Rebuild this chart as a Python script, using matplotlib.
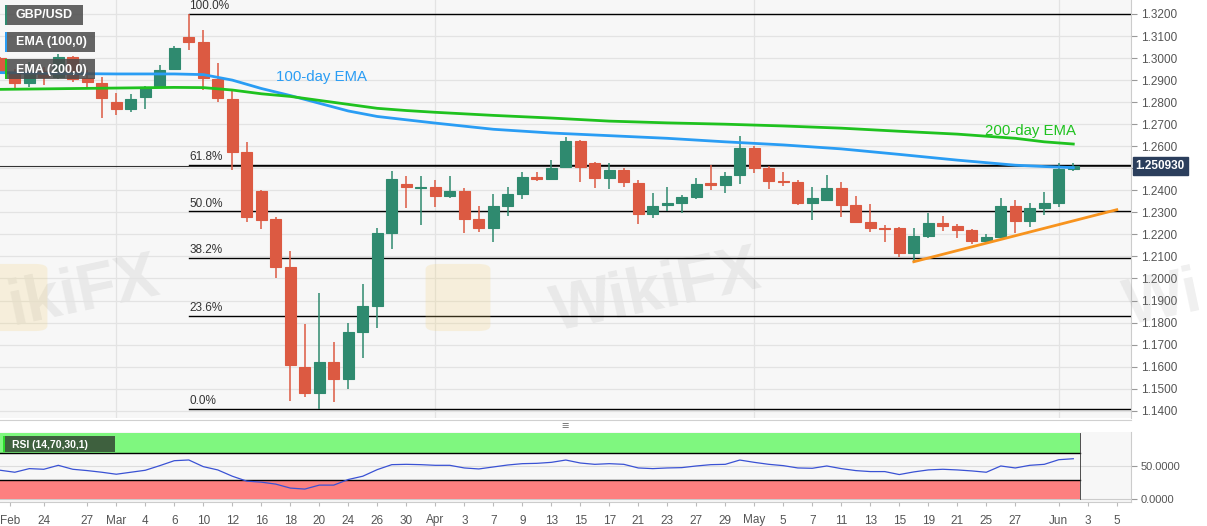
import matplotlib
matplotlib.use('Agg')
import matplotlib.pyplot as plt
import matplotlib.transforms as mtransforms
from matplotlib.patches import Rectangle, FancyBboxPatch
from matplotlib.lines import Line2D
import numpy as np

plt.rcParams['font.family'] = ['Liberation Sans', 'DejaVu Sans']

# daily GBP/USD candles, Feb 19 - Jun 2 (trading days only)
dates = ['Feb 19', 'Feb 20', 'Feb 21', 'Feb 24', 'Feb 25', 'Feb 26', 'Feb 27', 'Feb 28',
         'Mar 2', 'Mar 3', 'Mar 4', 'Mar 5', 'Mar 6', 'Mar 9', 'Mar 10', 'Mar 11', 'Mar 12',
         'Mar 13', 'Mar 16', 'Mar 17', 'Mar 18', 'Mar 19', 'Mar 20', 'Mar 23', 'Mar 24',
         'Mar 25', 'Mar 26', 'Mar 27', 'Mar 30', 'Mar 31',
         'Apr 1', 'Apr 2', 'Apr 3', 'Apr 6', 'Apr 7', 'Apr 8', 'Apr 9', 'Apr 10', 'Apr 13',
         'Apr 14', 'Apr 15', 'Apr 16', 'Apr 17', 'Apr 20', 'Apr 21', 'Apr 22', 'Apr 23',
         'Apr 24', 'Apr 27', 'Apr 28', 'Apr 29', 'Apr 30',
         'May 1', 'May 4', 'May 5', 'May 6', 'May 7', 'May 8', 'May 11', 'May 12', 'May 13',
         'May 14', 'May 15', 'May 18', 'May 19', 'May 20', 'May 21', 'May 22', 'May 25',
         'May 26', 'May 27', 'May 28', 'May 29', 'Jun 1', 'Jun 2']
opens = [1.2999, 1.2931, 1.2886, 1.2940, 1.2916, 1.3004, 1.2908, 1.2885,
         1.2802, 1.2768, 1.2822, 1.2873, 1.2950, 1.3094, 1.3072, 1.2904, 1.2814,
         1.2573, 1.2398, 1.2270, 1.2054, 1.1600, 1.1482, 1.1620, 1.1543,
         1.1756, 1.1877, 1.2205, 1.2429, 1.2410,
         1.2413, 1.2376, 1.2397, 1.2269, 1.2230, 1.2330, 1.2383, 1.2459, 1.2451,
         1.2505, 1.2624, 1.2523, 1.2457, 1.2492, 1.2434, 1.2292, 1.2333,
         1.2344, 1.2371, 1.2432, 1.2424, 1.2470,
         1.2591, 1.2500, 1.2442, 1.2436, 1.2344, 1.2357, 1.2409, 1.2333, 1.2258,
         1.2228, 1.2228, 1.2117, 1.2193, 1.2250, 1.2238, 1.2220, 1.2171,
         1.2189, 1.2329, 1.2261, 1.2318, 1.2341, 1.2495]
highs = [1.3005, 1.2951, 1.2980, 1.2960, 1.3017, 1.3009, 1.2946, 1.2915,
         1.2843, 1.2839, 1.2873, 1.2969, 1.3054, 1.3200, 1.3126, 1.2976, 1.2855,
         1.2621, 1.2400, 1.2280, 1.2126, 1.1792, 1.1933, 1.1710, 1.1797,
         1.1975, 1.2228, 1.2489, 1.2466, 1.2466,
         1.2447, 1.2466, 1.2409, 1.2329, 1.2382, 1.2416, 1.2482, 1.2483, 1.2538,
         1.2643, 1.2628, 1.2530, 1.2523, 1.2500, 1.2447, 1.2389, 1.2414,
         1.2379, 1.2455, 1.2515, 1.2485, 1.2646,
         1.2601, 1.2510, 1.2485, 1.2447, 1.2416, 1.2470, 1.2436, 1.2374, 1.2337,
         1.2243, 1.2235, 1.2228, 1.2296, 1.2285, 1.2247, 1.2224, 1.2200,
         1.2364, 1.2356, 1.2341, 1.2394, 1.2523, 1.2523]
lows = [1.2930, 1.2855, 1.2870, 1.2880, 1.2905, 1.2893, 1.2862, 1.2727,
        1.2742, 1.2756, 1.2771, 1.2867, 1.2947, 1.3037, 1.2857, 1.2802, 1.2492,
        1.2258, 1.2224, 1.2001, 1.1446, 1.1464, 1.1409, 1.1441, 1.1497,
        1.1638, 1.1774, 1.2132, 1.2318, 1.2243,
        1.2326, 1.2367, 1.2205, 1.2210, 1.2164, 1.2285, 1.2361, 1.2444, 1.2445,
        1.2500, 1.2436, 1.2409, 1.2405, 1.2414, 1.2246, 1.2273, 1.2307,
        1.2296, 1.2359, 1.2401, 1.2387, 1.2427,
        1.2477, 1.2405, 1.2421, 1.2333, 1.2265, 1.2357, 1.2280, 1.2255, 1.2210,
        1.2167, 1.2099, 1.2076, 1.2182, 1.2215, 1.2182, 1.2156, 1.2167,
        1.2189, 1.2205, 1.2232, 1.2288, 1.2323, 1.2488]
closes = [1.2938, 1.2886, 1.2938, 1.2915, 1.3004, 1.2905, 1.2890, 1.2818,
          1.2768, 1.2814, 1.2867, 1.2946, 1.3047, 1.3074, 1.2908, 1.2818, 1.2573,
          1.2278, 1.2265, 1.2054, 1.1607, 1.1482, 1.1620, 1.1543, 1.1756,
          1.1877, 1.2205, 1.2451, 1.2416, 1.2413,
          1.2376, 1.2397, 1.2270, 1.2230, 1.2330, 1.2383, 1.2459, 1.2451, 1.2500,
          1.2624, 1.2505, 1.2457, 1.2492, 1.2436, 1.2292, 1.2330, 1.2344,
          1.2370, 1.2427, 1.2424, 1.2465, 1.2591,
          1.2503, 1.2442, 1.2436, 1.2344, 1.2365, 1.2409, 1.2333, 1.2258, 1.2230,
          1.2225, 1.2117, 1.2193, 1.2250, 1.2238, 1.2220, 1.2171, 1.2189,
          1.2329, 1.2261, 1.2318, 1.2341, 1.2495, 1.250930]

# RSI(14) per candle
rsi = [44, 41, 46.5, 45.5, 51.5, 45.5, 43.5, 41,
       38, 41, 44, 51, 58.5, 59.6, 49.5, 44.5, 35, 27.5, 26, 23, 17, 15.5, 21.5, 21.5,
       30, 35, 45, 52.5, 53, 52.5,
       51.5, 51.5, 47.5, 46, 49, 52, 54, 54.5, 56, 59.5, 55, 53, 54, 53, 47.5, 46.5,
       47.5, 48, 50.5, 52.5, 53, 59.5,
       56, 53, 51, 47.5, 47, 50.5, 46.5, 43.5, 42, 42, 37.5, 41.5, 44.5, 45.5, 44.5,
       43, 41, 50.5, 47.5, 51.5, 53, 60, 61.5]

# EMA lines at selected candles
ema_idx = [0, 4, 8, 12, 14, 16, 18, 20, 22, 24, 26, 28, 30, 34, 38, 42, 46, 50,
           54, 58, 62, 66, 70, 72, 74]
ema100 = [1.2934, 1.2930, 1.2928, 1.2928, 1.2925, 1.2900, 1.2862, 1.2830, 1.2795,
          1.2760, 1.2735, 1.2720, 1.2705, 1.2677, 1.2660, 1.2648, 1.2636, 1.2620,
          1.2606, 1.2588, 1.2563, 1.2537, 1.2514, 1.2508, 1.2503]
ema200 = [1.2858, 1.2861, 1.2864, 1.2867, 1.2866, 1.2855, 1.2838, 1.2826, 1.2808,
          1.2790, 1.2772, 1.2762, 1.2754, 1.2740, 1.2728, 1.2714, 1.2706, 1.2700,
          1.2692, 1.2682, 1.2668, 1.2655, 1.2636, 1.2620, 1.2610]

# fibonacci swing (Mar 9 high -> Mar 20 low)
swing_high = 1.3200
swing_low = 1.1409
swing_start = 13
fib_ratios = [1.0, 0.618, 0.5, 0.382, 0.236, 0.0]
fib_labels = ['100.0%', '61.8%', '50.0%', '38.2%', '23.6%', '0.0%']

# support line from the May 18 low
trend_x = [63, 77]
trend_y = [1.2076, 1.2312]

tick_pos = [0.65, 3, 6, 8, 10, 12, 14, 16, 18, 20, 22, 24, 26, 28, 30, 32, 34, 36, 38,
            40, 42, 44, 46, 48, 50, 52, 54, 56, 58, 60, 62, 64, 66, 68, 70, 73, 75, 77]
tick_labels = ['Feb', '24', '27', 'Mar', '4', '6', '10', '12', '16', '18', '20', '24',
               '26', '30', 'Apr', '3', '7', '9', '13', '15', '17', '21', '23', '27', '29',
               'May', '5', '7', '11', '13', '15', '19', '21', '25', '27', 'Jun', '3', '5']

W, H = 1207, 526
GREEN_C = '#2f8a6f'
RED_C = '#dc5a42'
BLUE_E = '#2a9df4'
GREEN_E = '#1fc21f'
TXT = '#555555'


def fpx(x, y):
    return x / W, 1 - y / H


fig = plt.figure(figsize=(W / 100, H / 100), dpi=100)
fig.patch.set_facecolor('white')

ax = fig.add_axes([0, 1 - 418 / H, 1131 / W, 418 / H])
ax.set_facecolor('#f7f7f7')
xlo, xhi = -0.02, 77.98
ax.set_xlim(xlo, xhi)
ax.set_ylim(1.1367, 1.32635)

o = np.array(opens)
h = np.array(highs)
l = np.array(lows)
c = np.array(closes)
x = np.arange(len(o))
cols = np.where(c >= o, GREEN_C, RED_C)

ax.vlines(x, l, h, colors=cols, lw=1.1, zorder=3)
ax.bar(x, np.abs(c - o), bottom=np.minimum(o, c), width=0.74, color=cols,
       edgecolor=cols, lw=0.8, zorder=4)

ax.plot(ema_idx, ema100, color=BLUE_E, lw=2, zorder=5)
ax.plot(ema_idx, ema200, color=GREEN_E, lw=2, zorder=5)
ax.text(19, 1.2915, '100-day EMA', color=BLUE_E, fontsize=10.8, va='center', zorder=6)
ax.text(67.9, 1.2667, '200-day EMA', color=GREEN_E, fontsize=10.8, va='center', zorder=6)

# fib retracement
for r, lab in zip(fib_ratios, fib_labels):
    lvl = swing_low + r * (swing_high - swing_low)
    ax.plot([swing_start, xhi], [lvl, lvl], color='black', lw=1, zorder=2)
    ax.text(swing_start + 0.05, lvl + 0.0007, lab, color='#333333', fontsize=8.5,
            va='bottom', ha='left', zorder=6)

# last price line and label
ax.axhline(c[-1], color='#333333', lw=0.8, zorder=2)
trans = mtransforms.blended_transform_factory(ax.transAxes, ax.transData)
ax.text(1.004, c[-1], '%.6f' % c[-1], transform=trans, color='white', fontsize=8.5,
        fontweight='bold', va='center', ha='left', clip_on=False,
        bbox=dict(boxstyle='square,pad=0.25', fc='#2b3e5c', ec='#2b3e5c'))

ax.plot(trend_x, trend_y, color='#f7931e', lw=2, zorder=5)

# grid
ax.set_yticks(np.arange(1.14, 1.3201, 0.01))
ax.grid(axis='y', color='#e3e3e3', lw=0.9, zorder=0)
for m in [8, 30, 52, 73]:
    ax.axvline(m, color='#e3e3e3', lw=0.9, zorder=0)
ax.yaxis.tick_right()
# the 1.2500 label sits under the last-price box
ax.yaxis.set_major_formatter(
    plt.FuncFormatter(lambda v, p: '' if abs(v - 1.25) < 1e-6 else '%.4f' % v))
ax.tick_params(axis='y', colors='#999999', labelcolor=TXT, labelsize=8.5, length=4,
               width=0.8, pad=3)
ax.set_xticks([])
for s in ['top', 'left', 'bottom']:
    ax.spines[s].set_visible(False)
ax.spines['right'].set_color('#cccccc')

# watermarks
ax.text(0.58, 0.30, 'WikiFX', transform=ax.transAxes, fontsize=46, fontweight='bold',
        color='#888888', alpha=0.13, rotation=12, ha='center', va='center', zorder=1)
ax.text(0.002, 0.30, 'ikiFX', transform=ax.transAxes, fontsize=46, fontweight='bold',
        color='#888888', alpha=0.13, rotation=12, ha='left', va='center', zorder=1)
fig.text(1.0, 1 - 300 / H, 'Wi', fontsize=46, fontweight='bold', color='#888888',
         alpha=0.13, rotation=12, ha='right', va='center')
for lx, ly in [(428, 330), (-15, 330)]:
    fx, fy = fpx(lx, ly)
    fig.patches.append(FancyBboxPatch((fx, fy), 60 / W, 65 / H,
                                      boxstyle='round,pad=0.002,rounding_size=0.01',
                                      transform=fig.transFigure, fc='#f3d27a', ec='none',
                                      alpha=0.22))

# legend boxes
for (bx, by, bw, txt, edge) in [(5, 5, 78, 'GBP/USD', GREEN_C),
                                (5, 32, 90, 'EMA (100,0)', BLUE_E),
                                (5, 59, 90, 'EMA (200,0)', GREEN_E)]:
    fx, fy = fpx(bx, by + 20)
    fig.patches.append(Rectangle((fx, fy), bw / W, 20 / H, transform=fig.transFigure,
                                 fc='#4a4a4a', ec='none', alpha=0.85, zorder=10))
    fig.patches.append(Rectangle((fx, fy), 2 / W, 20 / H, transform=fig.transFigure,
                                 fc=edge, ec='none', zorder=11))
    tx, ty = fpx(bx + 11, by + 10.5)
    fig.text(tx, ty, txt, color='white', fontsize=9, fontweight='bold', va='center',
             ha='left', zorder=12)

# separator
fig.add_artist(Line2D([0, 1131 / W], [1 - 420 / H] * 2, color='#d0d0d0', lw=0.8))
sx, sy = fpx(565, 427)
fig.text(sx, sy, '\u2261', color='#777777', fontsize=9, ha='center', va='center')

# RSI panel
ax2 = fig.add_axes([0, 1 - 502 / H, 1131 / W, 70 / H])
ax2.set_facecolor('#f7f7f7')
ax2.set_xlim(xlo, xhi)
ax2.set_ylim(-4.1, 102)
band_end = len(rsi) - 1 + 0.45
ax2.add_patch(Rectangle((xlo, 70), band_end - xlo, 30, fc='#7ff77f', ec='none', zorder=1))
ax2.add_patch(Rectangle((xlo, 0), band_end - xlo, 30, fc='#fd8080', ec='none', zorder=1))
ax2.plot([xlo, band_end], [70, 70], color='black', lw=1, zorder=2)
ax2.plot([xlo, band_end], [30, 30], color='black', lw=1, zorder=2)
ax2.plot([band_end, band_end], [0, 100], color='#333333', lw=0.6, zorder=2)
ax2.axhline(50, color='#dddddd', lw=0.8, zorder=0)
ax2.axhline(0, color='#cccccc', lw=0.8, zorder=0)
ax2.plot(np.arange(len(rsi)), rsi, color='#3a52d4', lw=0.9, zorder=3)
ax2.yaxis.tick_right()
ax2.set_yticks([0, 50])
ax2.set_yticklabels(['0.0000', '50.0000'])
ax2.tick_params(axis='y', colors='#999999', labelcolor=TXT, labelsize=8, length=4,
                width=0.8, pad=3)
ax2.set_xticks(tick_pos)
ax2.set_xticklabels(tick_labels)
ax2.tick_params(axis='x', colors='#bbbbbb', labelcolor=TXT, labelsize=8.5, length=3,
                pad=6)
for s in ['top', 'left']:
    ax2.spines[s].set_visible(False)
ax2.spines['right'].set_color('#cccccc')
ax2.spines['bottom'].set_color('#cccccc')

rx, ry = fpx(3, 452)
fig.patches.append(Rectangle((rx, ry), 112 / W, 16 / H, transform=fig.transFigure,
                             fc='#2e3a2e', ec='none', alpha=0.8, zorder=10))
fig.patches.append(Rectangle((rx, ry), 2 / W, 16 / H, transform=fig.transFigure,
                             fc='#2fdc2f', ec='none', zorder=11))
tx, ty = fpx(12, 444.5)
fig.text(tx, ty, 'RSI (14,70,30,1)', color='white', fontsize=7.5, fontweight='bold',
         va='center', ha='left', zorder=12)

fig.savefig('out.png', dpi=100)
